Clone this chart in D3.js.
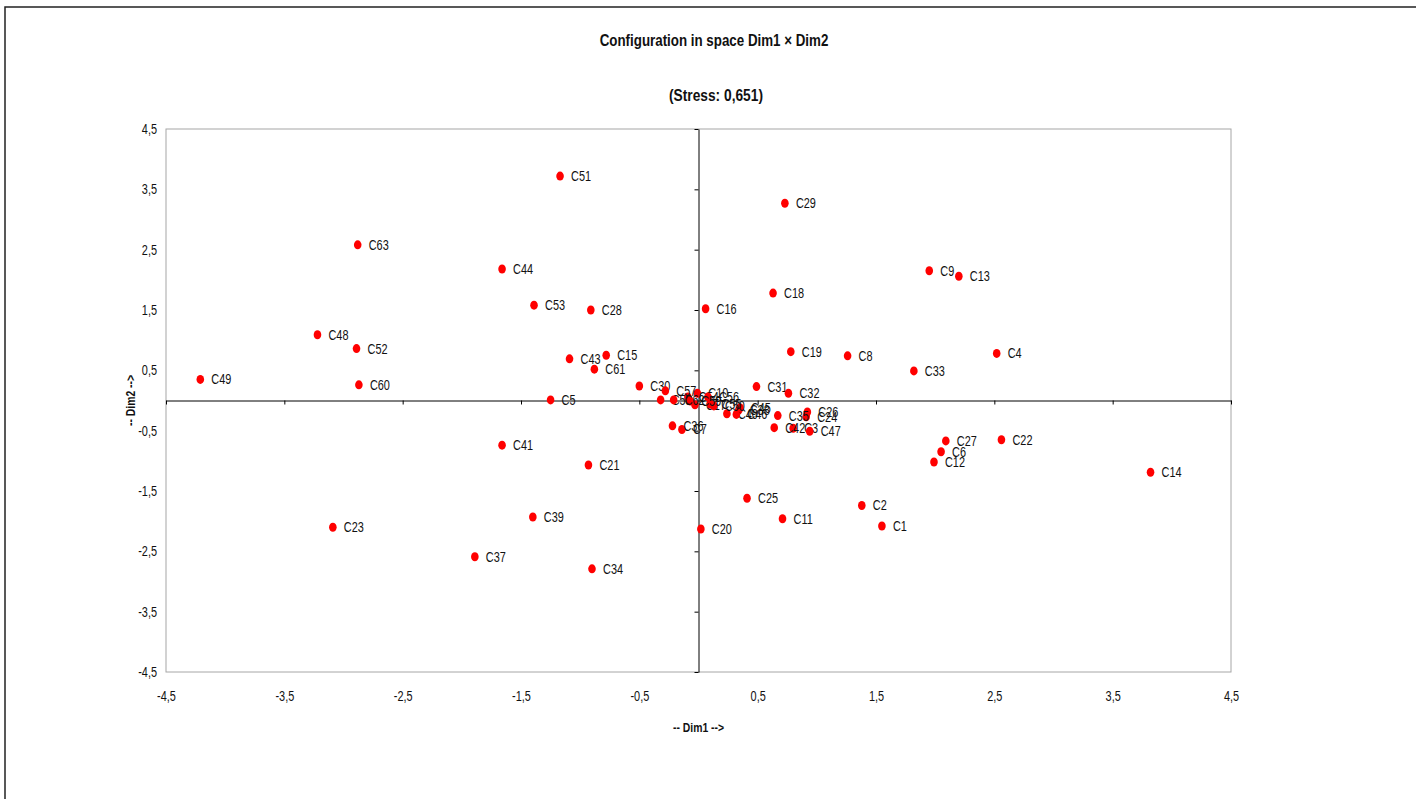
<!DOCTYPE html>
<html>
<head>
<meta charset="utf-8">
<script src="https://cdn.jsdelivr.net/npm/d3@7"></script>
<style>
  body { margin: 0; background: #fff; }
  svg text { font-family: "Liberation Sans", Arial, sans-serif; fill: #111; }
</style>
</head>
<body>
<script>
// objects (configurations) and their coordinates on Dim1 / Dim2
var labels = ["C1","C2","C3","C4","C5","C6","C7","C8","C9","C10",
              "C11","C12","C13","C14","C15","C16","C17","C18","C19","C20",
              "C21","C22","C23","C24","C25","C26","C27","C28","C29","C30",
              "C31","C32","C33","C34","C35","C36","C37","C38","C39","C40",
              "C41","C42","C43","C44","C45","C46","C47","C48","C49","C50",
              "C51","C52","C53","C54","C55","C56","C57","C58","C59","C60",
              "C61","C62","C63"];
var dim1 = [1.55, 1.38, 0.80, 2.52, -1.25, 2.05, -0.14, 1.26, 1.95, -0.01,
            0.71, 1.99, 2.20, 3.82, -0.78, 0.06, -0.03, 0.63, 0.78, 0.02,
            -0.93, 2.56, -3.09, 0.91, 0.41, 0.92, 2.09, -0.91, 0.73, -0.50,
            0.49, 0.76, 1.82, -0.90, 0.67, -0.22, -1.89, 0.34, -1.40, 0.24,
            -1.66, 0.64, -1.09, -1.66, 0.35, 0.32, 0.94, -3.22, -4.21, 0.13,
            -1.17, -2.89, -1.39, -0.09, 0.10, 0.08, -0.28, -0.32, -0.07, -2.87,
            -0.88, -0.21, -2.88];
var dim2 = [-2.08, -1.74, -0.46, 0.78, 0.01, -0.85, -0.48, 0.74, 2.15, 0.12,
            -1.96, -1.02, 2.06, -1.19, 0.75, 1.52, -0.07, 1.78, 0.81, -2.13,
            -1.07, -0.65, -2.10, -0.27, -1.62, -0.19, -0.67, 1.50, 3.27, 0.24,
            0.23, 0.12, 0.49, -2.79, -0.25, -0.42, -2.59, -0.16, -1.93, -0.22,
            -0.74, -0.45, 0.69, 2.18, -0.12, -0.23, -0.51, 1.09, 0.35, -0.09,
            3.72, 0.86, 1.58, 0.06, -0.06, 0.06, 0.16, 0.01, -0.01, 0.26,
            0.52, 0.01, 2.58];
var tickValues = [-4.5, -3.5, -2.5, -1.5, -0.5, 0.5, 1.5, 2.5, 3.5, 4.5];
var title = "Configuration in space Dim1 \u00d7 Dim2";
var subtitle = "(Stress: 0,651)";

var width = 1416, height = 799;
var plot = {left: 166, right: 1231, top: 129, bottom: 672};
var narrow = " scale(0.78,1)"; // the original uses a condensed face

var locale = d3.formatLocale({decimal: ",", thousands: ".", grouping: [3], currency: ["", ""], minus: "-"});
var fmt = locale.format(".1f");

var data = labels.map(function(d, i) { return {name: d, x: dim1[i], y: dim2[i]}; });

var x = d3.scaleLinear().domain([-4.5, 4.5]).range([plot.left, plot.right]);
var y = d3.scaleLinear().domain([-4.5, 4.5]).range([plot.bottom, plot.top]);

var svg = d3.select("body").append("svg")
    .attr("width", width)
    .attr("height", height);

// outer frame
svg.append("rect")
    .attr("x", 5).attr("y", 7)
    .attr("width", width + 20).attr("height", height + 20)
    .attr("fill", "none")
    .attr("stroke", "#222")
    .attr("stroke-width", 1.5);

// titles
svg.append("text")
    .attr("transform", "translate(714,46) scale(0.835,1)")
    .attr("text-anchor", "middle")
    .attr("font-size", 16)
    .attr("font-weight", "bold")
    .text(title);

svg.append("text")
    .attr("transform", "translate(716,101) scale(0.86,1)")
    .attr("text-anchor", "middle")
    .attr("font-size", 16)
    .attr("font-weight", "bold")
    .text(subtitle);

// plot border
svg.append("rect")
    .attr("x", plot.left).attr("y", plot.top)
    .attr("width", plot.right - plot.left)
    .attr("height", plot.bottom - plot.top)
    .attr("fill", "none")
    .attr("stroke", "#a6a6a6")
    .attr("stroke-width", 1);

// tick labels along the border
var xLab = svg.append("g")
    .attr("transform", "translate(0," + plot.bottom + ")")
    .call(d3.axisBottom(x).tickValues(tickValues).tickFormat(fmt).tickSize(0).tickPadding(19));
var yLab = svg.append("g")
    .attr("transform", "translate(" + plot.left + ",0)")
    .call(d3.axisLeft(y).tickValues(tickValues).tickFormat(fmt).tickSize(0).tickPadding(0));
xLab.selectAll("text").attr("transform", "scale(0.78,1)");
yLab.selectAll("text").attr("x", 0).attr("transform", "translate(-9,0)" + narrow);
[xLab, yLab].forEach(function(g) {
  g.select(".domain").remove();
  g.attr("font-family", null);
  g.selectAll("text").attr("font-size", 14).attr("fill", "#111");
});

// zero axes with small ticks
var xZero = svg.append("g")
    .attr("transform", "translate(0," + y(0) + ")")
    .call(d3.axisBottom(x).tickValues(tickValues).tickFormat("").tickSize(4).tickSizeOuter(0));
var yZero = svg.append("g")
    .attr("transform", "translate(" + x(0) + ",0)")
    .call(d3.axisLeft(y).tickValues(tickValues).tickFormat("").tickSize(4).tickSizeOuter(0));
[xZero, yZero].forEach(function(g) {
  g.selectAll("path, line").attr("stroke", "#000");
});

// axis titles
svg.append("text")
    .attr("transform", "translate(" + x(0) + ",732)" + " scale(0.8,1)")
    .attr("text-anchor", "middle")
    .attr("font-size", 13)
    .attr("font-weight", "bold")
    .text("-- Dim1 -->");

svg.append("text")
    .attr("transform", "translate(135," + y(0) + ") rotate(-90) scale(0.8,1)")
    .attr("text-anchor", "middle")
    .attr("font-size", 13)
    .attr("font-weight", "bold")
    .text("-- Dim2 -->");

// points
var pts = svg.append("g").selectAll("g")
    .data(data)
    .enter().append("g")
    .attr("transform", function(d) { return "translate(" + x(d.x) + "," + y(d.y) + ")"; });

pts.append("ellipse")
    .attr("rx", 3.8)
    .attr("ry", 4.5)
    .attr("fill", "#ff0000");

pts.append("text")
    .attr("transform", "translate(11,5)" + narrow)
    .attr("font-size", 14)
    .text(function(d) { return d.name; });
</script>
</body>
</html>
